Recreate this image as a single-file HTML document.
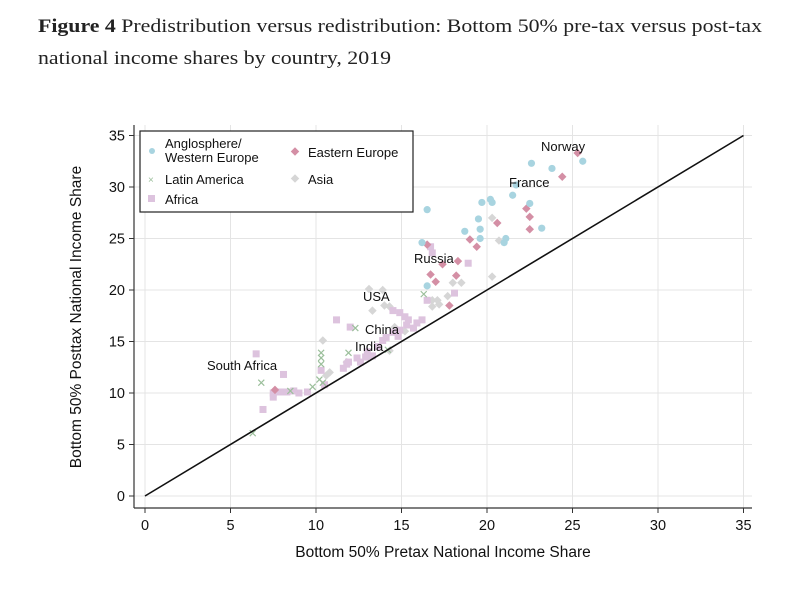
<!DOCTYPE html>
<html><head><meta charset="utf-8"><style>
html,body{margin:0;padding:0;background:#fff;}
svg{display:block;}
text{font-family:"Liberation Sans",Arial,sans-serif;fill:#111;}
.t{font-family:"Liberation Serif",serif;font-size:19px;fill:#222;}
</style></head><body>
<svg id="s" width="800" height="596" viewBox="0 0 800 596" xmlns="http://www.w3.org/2000/svg">
<rect width="800" height="596" fill="#fff"/>
<text class="t" x="38" y="32" textLength="724" lengthAdjust="spacingAndGlyphs"><tspan font-weight="bold">Figure 4</tspan> Predistribution versus redistribution: Bottom 50% pre-tax versus post-tax</text>
<text class="t" x="38" y="64" textLength="353" lengthAdjust="spacingAndGlyphs">national income shares by country, 2019</text>
<g id="grid" stroke="#e4e4e4" stroke-width="1"></g>
<g id="pts"></g>
<line x1="145" y1="496" x2="743.5" y2="135.5" stroke="#111" stroke-width="1.6"/>
<line x1="134" y1="125" x2="134" y2="508" stroke="#333" stroke-width="1.2"/>
<line x1="134" y1="508" x2="752" y2="508" stroke="#333" stroke-width="1.2"/>
<g id="ticks" stroke="#333" stroke-width="1"></g>
<g font-size="14.5" id="tl"></g>
<text x="443" y="557" font-size="15.5" text-anchor="middle">Bottom 50% Pretax National Income Share</text>
<text transform="translate(81,317) rotate(-90)" font-size="15.5" text-anchor="middle">Bottom 50% Posttax National Income Share</text>
<g font-size="13">
<text x="541" y="151">Norway</text>
<text x="509" y="187">France</text>
<text x="414" y="263">Russia</text>
<text x="363" y="301">USA</text>
<text x="365" y="334">China</text>
<text x="355" y="351">India</text>
<text x="207" y="370">South Africa</text>
</g>
<rect x="140" y="131" width="273" height="81" fill="#fff" stroke="#222" stroke-width="1.2"/>
<g font-size="13">
<circle cx="152" cy="151" r="3" fill="#a8d4e0"/>
<text x="165" y="148">Anglosphere/</text>
<text x="165" y="162">Western Europe</text>
<rect x="292" y="148.5" width="6" height="6" fill="#d48fa5" transform="rotate(45 295 151.5)"/>
<text x="308" y="157">Eastern Europe</text>
<text x="148" y="183" font-size="10" fill="#9bbf9b" style="fill:#9bbf9b">×</text>
<text x="165" y="184">Latin America</text>
<rect x="292" y="175.5" width="6" height="6" fill="#d6d6d6" transform="rotate(45 295 178.5)"/>
<text x="308" y="184">Asia</text>
<rect x="148" y="195" width="7" height="7" fill="#ddc3de"/>
<text x="165" y="204">Africa</text>
</g>
</svg>
<script>
var NS="http://www.w3.org/2000/svg";
function X(v){return 145+v*17.1;} function Y(v){return 496-v*10.3;}
function el(n,a,p){var e=document.createElementNS(NS,n);for(var k in a)e.setAttribute(k,a[k]);document.getElementById(p).appendChild(e);return e;}
for(var i=0;i<=35;i+=5){
 el('line',{x1:X(i),x2:X(i),y1:125,y2:508},'grid');
 el('line',{x1:134,x2:752,y1:Y(i),y2:Y(i)},'grid');
 el('line',{x1:X(i),x2:X(i),y1:508,y2:513},'ticks');
 el('line',{x1:129,x2:134,y1:Y(i),y2:Y(i)},'ticks');
 var t=el('text',{x:X(i),y:530,'text-anchor':'middle'},'tl');t.textContent=i;
 t=el('text',{x:125,y:Y(i)+5,'text-anchor':'end'},'tl');t.textContent=i;
}
var blue=[[16.5,27.8],[19.7,28.5],[20.2,28.8],[20.3,28.5],[22.6,32.3],[23.8,31.8],[25.6,32.5],[21.7,30.2],[21.5,29.2],[22.5,28.4],[19.5,26.9],[19.6,25.9],[18.7,25.7],[19.6,25],[21.1,25],[21,24.6],[23.2,26],[16.2,24.6],[16.5,20.4]];
var east=[[25.3,33.3],[24.4,31],[22.3,27.9],[22.5,27.1],[22.5,25.9],[20.6,26.5],[19,24.9],[19.4,24.2],[18.3,22.8],[17.4,22.5],[16.7,21.5],[18.2,21.4],[17,20.8],[17.8,18.5],[16.5,24.4],[7.6,10.3]];
var asia=[[20.3,27],[20.7,24.8],[20.3,21.3],[18,20.7],[18.5,20.7],[17.7,19.4],[17.1,19],[16.8,18.4],[13.1,20.1],[13.9,20],[13.3,18],[14.3,18.4],[10.4,15.1],[14.6,16.4],[10.6,11.7],[11.8,13],[16.8,19],[17.2,18.6],[14,18.5],[15.2,16],[10.8,12],[14.3,14.1]];
var lat=[[10.3,13.9],[10.3,13.4],[6.8,11],[6.3,6.1],[8.5,10.2],[9.8,10.6],[16.3,19.6],[12.3,16.3],[14.2,14.2],[10.2,11.3],[11.9,13.9],[10.3,12.8],[10.4,11]];
var afr=[[11.2,17.1],[12,16.4],[6.5,13.8],[8.1,11.8],[7.5,10],[7.5,9.6],[6.9,8.4],[7.9,10.1],[8.3,10.1],[9,10],[9.5,10.1],[11.6,12.4],[11.9,13],[12.4,13.4],[12.9,13.5],[13.3,13.6],[13.6,14.5],[13.9,15.1],[14.1,15.4],[14.5,15.9],[14.9,16.1],[15.3,16.6],[15.7,16.3],[14.5,18],[14.9,17.8],[15.2,17.4],[15.4,17.1],[10.3,12.2],[18.1,19.7],[18.9,22.6],[16.7,24.2],[16.5,19],[12.6,13],[13,14],[14.8,15.5],[15.9,16.8],[16.2,17.1],[11.8,12.8],[8.7,10.2],[10.5,10.8],[16.8,23.6]];
var g='pts';
asia.forEach(function(p){el('rect',{x:X(p[0])-3,y:Y(p[1])-3,width:6,height:6,fill:'#d6d6d6',transform:'rotate(45 '+X(p[0])+' '+Y(p[1])+')'},g);});
afr.forEach(function(p){el('rect',{x:X(p[0])-3.5,y:Y(p[1])-3.5,width:7,height:7,fill:'#ddc3de'},g);});
lat.forEach(function(p){var x=X(p[0]),y=Y(p[1]);el('path',{d:'M'+(x-3)+' '+(y-3)+'L'+(x+3)+' '+(y+3)+'M'+(x-3)+' '+(y+3)+'L'+(x+3)+' '+(y-3),stroke:'#9bbf9b','stroke-width':1.2},g);});
east.forEach(function(p){el('rect',{x:X(p[0])-3,y:Y(p[1])-3,width:6,height:6,fill:'#d48fa5',transform:'rotate(45 '+X(p[0])+' '+Y(p[1])+')'},g);});
blue.forEach(function(p){el('circle',{cx:X(p[0]),cy:Y(p[1]),r:3.6,fill:'#a8d4e0'},g);});
</script>
</body></html>
